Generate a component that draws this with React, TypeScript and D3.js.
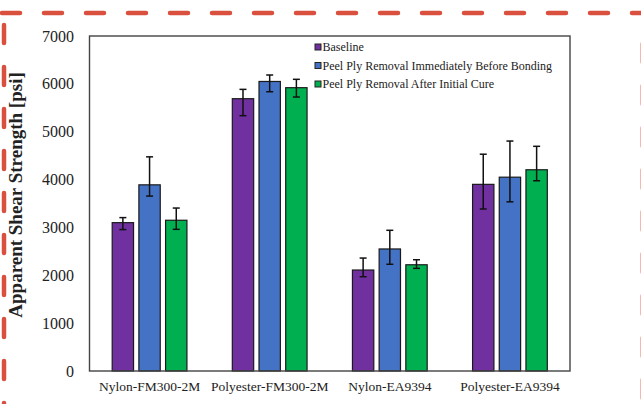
import React from "react";
import * as d3 from "d3";

// Adhesive joint results: apparent shear strength by peel ply / adhesive combination
const categories = ["Nylon-FM300-2M", "Polyester-FM300-2M", "Nylon-EA9394", "Polyester-EA9394"];
const seriesNames = [
  "Baseline",
  "Peel Ply Removal Immediately Before Bonding",
  "Peel Ply Removal After Initial Cure",
];
const seriesColors = ["#7030A0", "#4472C4", "#00B050"];

// Mean values (psi)
const baseline = [3100, 5690, 2110, 3900];
const immediate = [3890, 6050, 2550, 4050];
const afterCure = [3150, 5920, 2220, 4205];

// Error bar bounds (psi)
const baselineLow = [2955, 5335, 1970, 3385];
const baselineHigh = [3205, 5885, 2360, 4530];
const immediateLow = [3655, 5835, 2230, 3535];
const immediateHigh = [4475, 6185, 2940, 4805];
const afterCureLow = [2960, 5725, 2145, 3975];
const afterCureHigh = [3405, 6095, 2325, 4695];

const yTicks = [0, 1000, 2000, 3000, 4000, 5000, 6000, 7000];

const W = 641;
const H = 404;
const plot = { left: 89.5, right: 570, top: 36, bottom: 371 };

export default function App() {
  const x0 = d3.scaleBand<string>().domain(categories).range([plot.left, plot.right]).padding(0);
  const x1 = d3
    .scaleBand<number>()
    .domain([0, 1, 2])
    .range([0, x0.bandwidth()])
    .paddingInner(0.2)
    .paddingOuter(0.85);
  const y = d3.scaleLinear().domain([0, 7000]).range([plot.bottom, plot.top]);

  const values = [baseline, immediate, afterCure];
  const lows = [baselineLow, immediateLow, afterCureLow];
  const highs = [baselineHigh, immediateHigh, afterCureHigh];

  const serif = "'Liberation Serif', 'Times New Roman', serif";
  const dash = "#D9503F";

  return (
    <div style={{ position: "fixed", left: 0, top: 0, width: W, height: H, background: "#fff" }}>
      <svg width={W} height={H} style={{ display: "block" }} fontFamily={serif}>
        <rect x={0} y={0} width={W} height={H} fill="#fff" />

        {/* dashed frame */}
        <g stroke={dash} strokeWidth={4.5} strokeLinecap="round" strokeDasharray="18 24" fill="none">
          <line x1={2} y1={13} x2={660} y2={13} />
          <line x1={4} y1={25} x2={4} y2={420} />
          <line x1={642.6} y1={44} x2={642.6} y2={420} opacity={0.6} />
        </g>

        {/* bars */}
        {categories.map((c, ci) => (
          <g key={c} transform={`translate(${x0(c)},0)`}>
            {values.map((vals, si) => (
              <rect
                key={si}
                x={x1(si)}
                y={y(vals[ci])}
                width={x1.bandwidth()}
                height={y(0) - y(vals[ci])}
                fill={seriesColors[si]}
                stroke="#1a1a1a"
                strokeWidth={1.2}
              />
            ))}
            {values.map((_, si) => {
              const cx = (x1(si) as number) + x1.bandwidth() / 2;
              const yl = y(lows[si][ci]);
              const yh = y(highs[si][ci]);
              return (
                <g key={"e" + si} stroke="#111" strokeWidth={1.5}>
                  <line x1={cx} x2={cx} y1={yh} y2={yl} />
                  <line x1={cx - 3.5} x2={cx + 3.5} y1={yh} y2={yh} />
                  <line x1={cx - 3.5} x2={cx + 3.5} y1={yl} y2={yl} />
                </g>
              );
            })}
          </g>
        ))}

        {/* plot frame */}
        <rect
          x={plot.left}
          y={plot.top}
          width={plot.right - plot.left}
          height={plot.bottom - plot.top}
          fill="none"
          stroke="#444"
          strokeWidth={1.4}
        />

        {/* y tick labels */}
        {yTicks.map((t) => (
          <text key={t} x={74} y={y(t)} dy="0.35em" textAnchor="end" fontSize={16} fill="#222">
            {t}
          </text>
        ))}

        {/* y axis title */}
        <text
          transform={`translate(22,195) rotate(-90)`}
          textAnchor="middle"
          fontSize={19}
          fontWeight="bold"
          fill="#222"
        >
          Apparent Shear Strength [psi]
        </text>

        {/* category labels */}
        {categories.map((c) => (
          <text
            key={c}
            x={(x0(c) as number) + x0.bandwidth() / 2}
            y={391}
            textAnchor="middle"
            fontSize={13.5}
            fill="#222"
          >
            {c}
          </text>
        ))}

        {/* legend */}
        {seriesNames.map((n, i) => (
          <g key={n} transform={`translate(315,${47 + i * 18.5})`}>
            <rect x={0} y={-3} width={6} height={6} fill={seriesColors[i]} stroke="#222" strokeWidth={1} />
            <text x={7.5} y={0} dy="0.35em" fontSize={12} fill="#222">
              {n}
            </text>
          </g>
        ))}
      </svg>
    </div>
  );
}
